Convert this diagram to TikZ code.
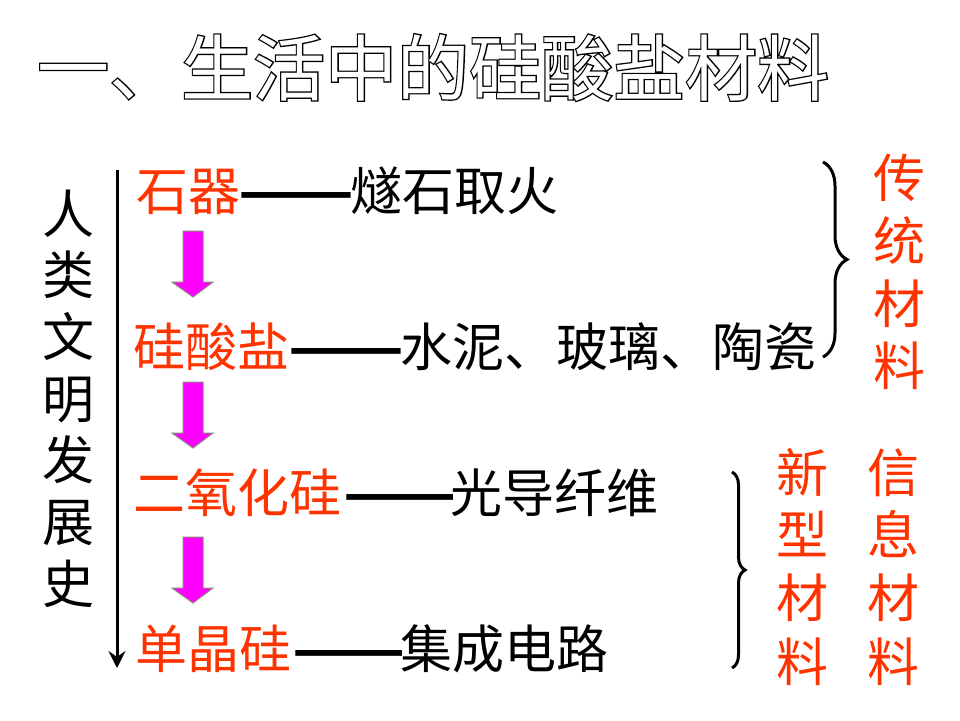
\documentclass[tikz,border=0pt]{standalone}
\usepackage{fontspec}
\newfontfamily\cjk{Noto Sans CJK SC}
\newfontfamily\cjkfat[FakeBold=3.5]{Noto Sans CJK SC}
\usetikzlibrary{decorations.pathreplacing,arrows.meta}
\definecolor{redtxt}{HTML}{FF3300}
\definecolor{magarrow}{HTML}{FF00FF}
\definecolor{arrowedge}{HTML}{8A8A7A}
\newcommand\hollowtext[1]{\rlap{\cjkfat\color{black}#1}{\cjk\color{white}#1}}
\begin{document}
\begin{tikzpicture}[x=1pt,y=-1pt,
  redt/.style={font=\cjk\fontsize{52}{52}\selectfont, text=redtxt, inner sep=0pt, anchor=base west},
  blkt/.style={font=\cjk\fontsize{52}{52}\selectfont, text=black, inner sep=0pt, anchor=base west},
  dasht/.style={font=\cjk\bfseries\fontsize{52}{52}\selectfont, text=black, inner sep=0pt, anchor=base west},
  vchar/.style={font=\cjk\fontsize{52}{52}\selectfont, inner sep=0pt, anchor=base},
  curly/.style={decorate, decoration={brace, amplitude=#1}, line width=3pt},
  blockarrow/.style={fill=magarrow, draw=arrowedge, line width=1pt, line join=miter}
]
\useasboundingbox (0,0) rectangle (960,720);
\fill[white] (0,0) rectangle (960,720);

% title
\node[font=\fontsize{72}{72}\selectfont, inner sep=0pt, anchor=base west] (title) at (37,95)
  {\hollowtext{一、生活中的硅酸盐材料}};

% left vertical text
\foreach \c [count=\i from 0] in {人,类,文,明,发,展,史}
  \node[vchar] (hist\i) at (68,{233+61.7*\i}) {\c};

% timeline arrow
\coordinate (tltop) at (117,170);
\coordinate (tlbot) at (117,668);
\draw[line width=3pt, -{Stealth[length=17pt,width=17pt,inset=6pt]}] (tltop) -- (tlbot);

% rows
\node[redt] (r1) at (136,210) {石器};
\node[dasht] (d1) at (238,210) {\scalebox{1.3}[1]{——}};
\node[blkt] (b1) at (350,210) {燧石取火};

\node[redt] (r2) at (133,366) {硅酸盐};
\node[dasht] (d2) at (288,366) {\scalebox{1.3}[1]{——}};
\node[blkt] (b2) at (400,366) {水泥、玻璃、陶瓷};

\node[redt] (r3) at (133,512) {二氧化硅};
\node[dasht] (d3) at (343,512) {\scalebox{1.27}[1]{——}};
\node[blkt] (b3) at (450,512) {光导纤维};

\node[redt] (r4) at (135,668) {单晶硅};
\node[dasht] (d4) at (292,668) {\scalebox{1.27}[1]{——}};
\node[blkt] (b4) at (400,668) {集成电路};

% magenta block arrows
\foreach \t in {231,382,537}
  \draw[blockarrow] (183,\t) -- (203,\t) -- (203,\t+51) -- (213,\t+51) -- (193,\t+66)
     -- (172,\t+51) -- (183,\t+51) -- cycle;

% braces
\coordinate (br1a) at (823,162);
\coordinate (br1b) at (823,357);
\draw[curly=24pt] (br1a) -- (br1b);
\coordinate (br2a) at (732,472);
\coordinate (br2b) at (732,668);
\draw[curly=13pt] (br2a) -- (br2b);

% right texts
\foreach \c/\yy [count=\i] in {传/197,统/260,材/323,料/385}
  \node[vchar, text=redtxt] (trad\i) at (899,\yy) {\c};
\foreach \c/\yy [count=\i] in {新/492,型/554,材/617,料/681}
  \node[vchar, text=redtxt] (new\i) at (802,\yy) {\c};
\foreach \c/\yy [count=\i] in {信/492,息/554,材/617,料/681}
  \node[vchar, text=redtxt] (info\i) at (893,\yy) {\c};
\end{tikzpicture}
\end{document}
